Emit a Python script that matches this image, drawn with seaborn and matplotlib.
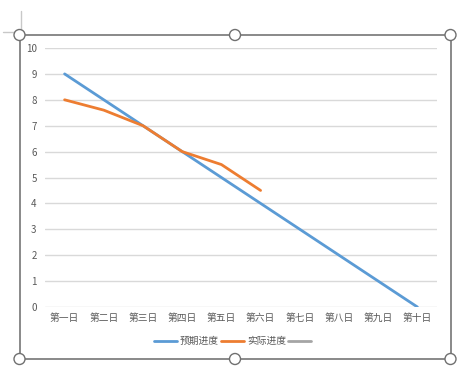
import matplotlib
matplotlib.use("Agg")
import matplotlib.pyplot as plt
import seaborn as sns
import pandas as pd
from matplotlib.lines import Line2D
from matplotlib.patches import Circle

categories = ["第一日", "第二日", "第三日", "第四日", "第五日", "第六日", "第七日", "第八日", "第九日", "第十日"]
expected = [9, 8, 7, 6, 5, 4, 3, 2, 1, 0]
actual = [8, 7.6, 7, 6, 5.5, 4.5]
series_names = ["预期进度", "实际进度", ""]
colors = ["#5B9BD5", "#ED7D31", "#A5A5A5"]
yticks = [0, 1, 2, 3, 4, 5, 6, 7, 8, 9, 10]

sns.set_theme(style="white")
plt.rcParams['font.family'] = ['Noto Sans CJK SC', 'DejaVu Sans']

df = pd.concat([
    pd.DataFrame({"day": list(range(len(expected))), "val": expected, "series": series_names[0]}),
    pd.DataFrame({"day": list(range(len(actual))), "val": actual, "series": series_names[1]}),
])

fig = plt.figure(figsize=(4.61, 3.8), dpi=100)
fig.patch.set_facecolor("white")

W, H = 461, 380
ax = fig.add_axes([45 / W, (H - 307) / H, 392 / W, (307 - 48) / H])
sns.lineplot(data=df, x="day", y="val", hue="series", palette=colors[:2],
             linewidth=2.0, ax=ax, legend=False, sort=False)
ax.set_xlim(-0.5, len(categories) - 0.5)
ax.set_ylim(0, 10)
ax.set_yticks(yticks)
ax.set_yticklabels([str(v) for v in yticks])
ax.set_xticks(range(len(categories)))
ax.set_xticklabels(categories)
ax.grid(axis="y", color="#D9D9D9", linewidth=1)
ax.set_axisbelow(True)
for s in ax.spines.values():
    s.set_visible(False)
ax.tick_params(axis="both", length=0, labelsize=7, colors="#595959")
ax.tick_params(axis="y", pad=6)
ax.tick_params(axis="x", pad=4)
ax.set_xlabel("")
ax.set_ylabel("")

handles = [Line2D([0], [0], color=c, linewidth=2.0) for c in colors]
fig.legend(handles, series_names, loc="center", bbox_to_anchor=(234 / W, (H - 341) / H),
           ncol=3, frameon=False, fontsize=7, handlelength=2.4, handletextpad=0.3,
           columnspacing=0.2, labelcolor="#595959")

# selection frame overlay
ov = fig.add_axes([0, 0, 1, 1], zorder=-1)
ov.set_xlim(0, W)
ov.set_ylim(H, 0)
ov.axis("off")
fc = "#808080"
L, R, T, B = 19.5, 450.5, 35, 359
ov.plot([L, R], [T, T], color=fc, lw=1.3)
ov.plot([L, R], [B, B], color=fc, lw=1.3)
ov.plot([L, L], [T, B], color=fc, lw=1.3)
ov.plot([R, R], [T, B], color=fc, lw=1.3)
ov.plot([21, 21], [11, 32], color="#C8C8C8", lw=1)
ov.plot([3, 16], [32, 32], color="#C8C8C8", lw=1)
for cx, cy in [(L, T), ((L + R) / 2, T), (R, T), (L, B), ((L + R) / 2, B), (R, B)]:
    ov.add_patch(Circle((cx, cy), 5.5, facecolor="white", edgecolor="#707070", lw=1, zorder=5))

fig.savefig("out.png", dpi=100)
